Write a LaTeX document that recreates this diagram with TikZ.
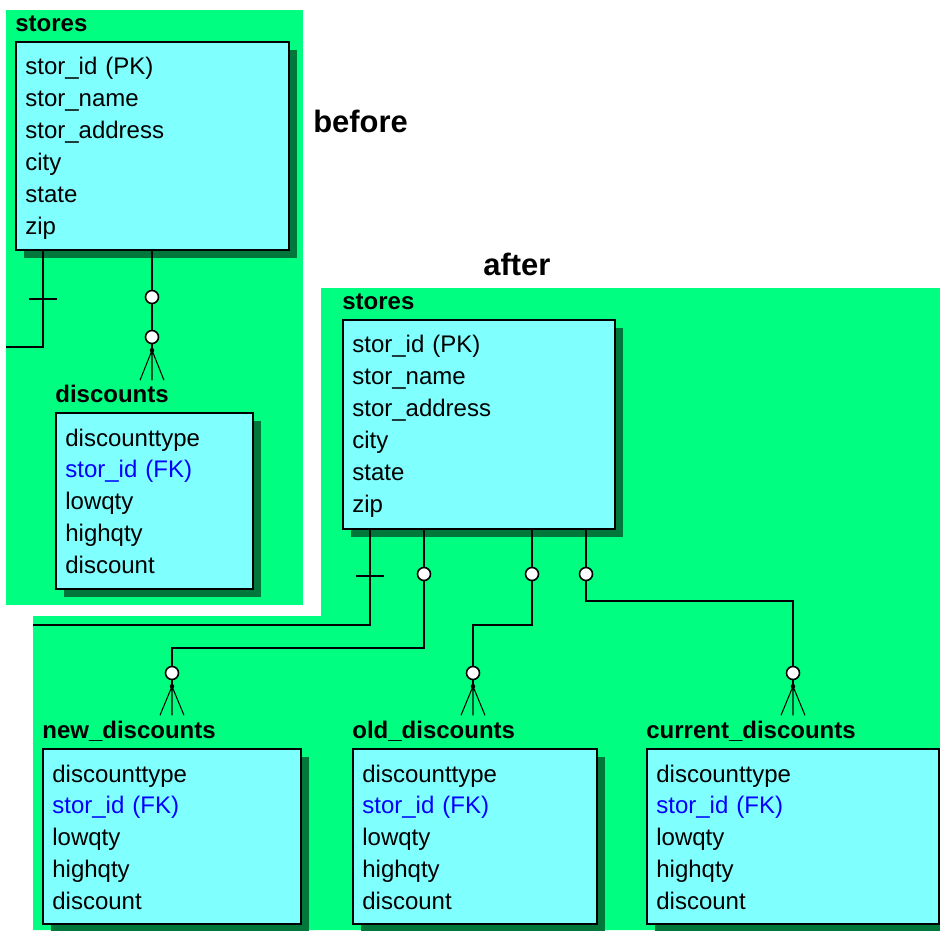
\documentclass[tikz,border=0pt]{standalone}
\usepackage{fontspec}
\setmainfont{Liberation Sans}
\usetikzlibrary{positioning, shadows, calc}
\definecolor{erbg}{RGB}{0,255,128}
\definecolor{erbox}{RGB}{128,255,255}
\definecolor{ershadow}{RGB}{0,120,60}

\begin{document}
\begin{tikzpicture}[
    x=0.02cm, y=-0.02cm,
    tbl/.style={draw, line width=1.1pt, fill=erbox, anchor=north west, inner sep=0,
        drop shadow={shadow xshift=0.17cm, shadow yshift=-0.17cm, fill=ershadow, opacity=1}},
    ttl/.style={anchor=base west, inner sep=0, font=\fontsize{13.66}{16}\selectfont\bfseries},
    rows/.style={anchor=base west, inner sep=0, text width=4.5cm, align=left,
        font=\fontsize{13.66}{18.2}\selectfont},
    opt/.style={circle, draw, fill=white, line width=0.9pt, minimum size=0.26cm, inner sep=0},
    rel/.style={line width=1.1pt},
    foot/.style={line width=0.6pt},
    caption/.style={anchor=base west, inner sep=0, font=\fontsize{17.6}{20}\selectfont\bfseries}
]
\useasboundingbox (0,0) rectangle (940,930);
\fill[white] (0,0) rectangle (940,930);

% After panel (drawn first, the before panel sits on top)
\fill[erbg] (321,288) -| (940,930) -| (33,616) -- (321,616) -- cycle;
% Before panel
\fill[erbg] (6,10) rectangle (303,605);

\node[caption] (before) at (313,132) {before};
\node[caption] (after) at (483,275) {after};

% Before: stores -> discounts
\node[tbl, minimum width=5.46cm, minimum height=4.16cm] (stores1) at (15,41) {};
\node[ttl] (stores1-title) at ([yshift=0.2cm]stores1.north west) {stores};
\node[rows] (stores1-rows) at ([xshift=0.2cm, yshift=-0.68cm]stores1.north west)
    {stor\_id (PK)\\stor\_name\\stor\_address\\city\\state\\zip};

\node[tbl, minimum width=3.94cm, minimum height=3.52cm] (disc1) at (55,412) {};
\node[ttl] (disc1-title) at ([yshift=0.2cm]disc1.north west) {discounts};
\node[rows] (disc1-rows) at ([xshift=0.2cm, yshift=-0.68cm]disc1.north west)
    {discounttype\\\textcolor{blue}{stor\_id (FK)}\\lowqty\\highqty\\discount};

\coordinate (one1) at (6,347);
\draw[rel] ([xshift=0.56cm]stores1.south west) |- (one1);
\draw[rel] ([xshift=0.56cm]stores1.south west) ++(-14,48) -- ++(28,0);

\node[opt] (bopt1) at (152,297) {};
\node[opt] (bopt2) at (152,337) {};
\draw[rel] (stores1.south -| bopt1) -- (bopt1) -- (bopt2);
\draw[rel] (bopt2.south) -- ++(0,6) coordinate (bfoot);
\fill (bfoot) circle (0.045cm);
\draw[foot] (bfoot) -- ++(-12,30) (bfoot) -- ++(0,30) (bfoot) -- ++(12,30);

% After: stores -> new / old / current discounts
\node[tbl, minimum width=5.44cm, minimum height=4.18cm] (stores2) at (342,319) {};
\node[ttl] (stores2-title) at ([yshift=0.2cm]stores2.north west) {stores};
\node[rows] (stores2-rows) at ([xshift=0.2cm, yshift=-0.68cm]stores2.north west)
    {stor\_id (PK)\\stor\_name\\stor\_address\\city\\state\\zip};

\node[tbl, minimum width=5.16cm, minimum height=3.5cm] (newd) at (42,748) {};
\node[ttl] (newd-title) at ([yshift=0.2cm]newd.north west) {new\_discounts};
\node[rows] (newd-rows) at ([xshift=0.2cm, yshift=-0.68cm]newd.north west)
    {discounttype\\\textcolor{blue}{stor\_id (FK)}\\lowqty\\highqty\\discount};

\node[tbl, minimum width=4.88cm, minimum height=3.5cm] (oldd) at (352,748) {};
\node[ttl] (oldd-title) at ([yshift=0.2cm]oldd.north west) {old\_discounts};
\node[rows] (oldd-rows) at ([xshift=0.2cm, yshift=-0.68cm]oldd.north west)
    {discounttype\\\textcolor{blue}{stor\_id (FK)}\\lowqty\\highqty\\discount};

\node[tbl, minimum width=5.84cm, minimum height=3.5cm] (curd) at (646,748) {};
\node[ttl] (curd-title) at ([yshift=0.2cm]curd.north west) {current\_discounts};
\node[rows] (curd-rows) at ([xshift=0.2cm, yshift=-0.68cm]curd.north west)
    {discounttype\\\textcolor{blue}{stor\_id (FK)}\\lowqty\\highqty\\discount};

\coordinate (one2) at (33,625);
\draw[rel] ([xshift=0.56cm]stores2.south west) |- (one2);
\draw[rel] ([xshift=0.56cm]stores2.south west) ++(-14,46) -- ++(28,0);

\node[opt] (n1) at (424,574) {};
\node[opt] (n2) at (172,673) {};
\node[opt] (o1) at (532,574) {};
\node[opt] (o2) at (473,673) {};
\node[opt] (c1) at (586,574) {};
\node[opt] (c2) at (793,673) {};

\draw[rel] (stores2.south -| n1) -- (n1);
\draw[rel] (n1) -- ++(0,74) -| (n2);
\draw[rel] (stores2.south -| o1) -- (o1);
\draw[rel] (o1) -- ++(0,51) -| (o2);
\draw[rel] (stores2.south -| c1) -- (c1);
\draw[rel] (c1) -- ++(0,27) -| (c2);

% crow's feet
\draw[rel] (n2.south) -- ++(0,6) coordinate (nfoot);
\fill (nfoot) circle (0.045cm);
\draw[foot] (nfoot) -- ++(-12,29) (nfoot) -- ++(0,29) (nfoot) -- ++(12,29);
\draw[rel] (o2.south) -- ++(0,6) coordinate (ofoot);
\fill (ofoot) circle (0.045cm);
\draw[foot] (ofoot) -- ++(-12,29) (ofoot) -- ++(0,29) (ofoot) -- ++(12,29);
\draw[rel] (c2.south) -- ++(0,6) coordinate (cfoot);
\fill (cfoot) circle (0.045cm);
\draw[foot] (cfoot) -- ++(-12,29) (cfoot) -- ++(0,29) (cfoot) -- ++(12,29);
\end{tikzpicture}
\end{document}
